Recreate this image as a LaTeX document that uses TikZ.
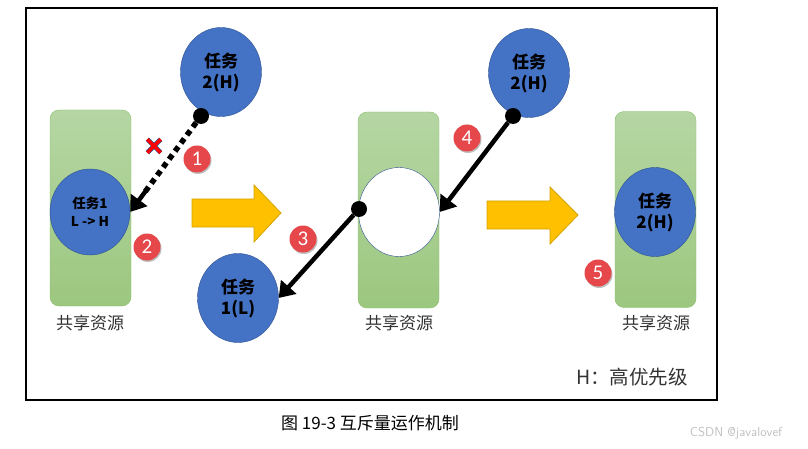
\documentclass[tikz,border=0pt]{standalone}
\usepackage{fontspec}
\setmainfont{Carlito}
\newfontfamily\cjk{Noto Sans CJK SC}
\usetikzlibrary{arrows.meta,shapes.geometric,calc}

\definecolor{taskblue}{HTML}{4472C4}
\definecolor{taskline}{HTML}{2F528F}
\definecolor{boxtop}{HTML}{B5D6A3}
\definecolor{boxbot}{HTML}{9CC77F}
\definecolor{boxline}{HTML}{8DC070}
\definecolor{badgered}{HTML}{E5474B}
\definecolor{arrowyellow}{HTML}{FFC000}
\definecolor{arrowline}{HTML}{D6A200}

\tikzset{
  res/.style={draw=boxline, top color=boxtop, bottom color=boxbot, rounded corners=9pt,
    minimum width=81pt, minimum height=196pt},
  task/.style={ellipse, draw=taskline, fill=taskblue, minimum width=81pt, minimum height=89pt,
    inner sep=0pt, align=center, font=\cjk\bfseries\fontsize{17}{21}\selectfont},
  badge/.style={circle, fill=badgered, text=white, minimum size=27pt, inner sep=0pt,
    font=\fontsize{21}{21}\selectfont},
  shade/.style={circle, fill=black!25, minimum size=27pt, inner sep=0pt},
  dot/.style={circle, fill=black, minimum size=16pt, inner sep=0pt},
  reslabel/.style={font=\cjk\fontsize{17}{20}\selectfont, text=black!80},
  move/.style={line width=4.5pt, -{Triangle[length=15pt, width=20pt]}},
  bigarrow/.style={draw=arrowline, fill=arrowyellow, line width=0.8pt}
}

\begin{document}
\begin{tikzpicture}[x=1pt, y=-1pt]
\useasboundingbox (0,0) rectangle (808,449);

\draw[line width=1.3pt] (26,8) rectangle (717,400);

% left: task 2 blocked
\node[res] (res1) at (90.5,208) {};
\node[task, minimum width=80pt, minimum height=86pt, font=\cjk\bfseries\fontsize{13.5}{18}\selectfont]
  (t1) at (90,212) {任务1\\L -> H};
\node[task] (t2a) at (221,72) {任务\\2(H)};
\node[dot] (d1) at (201,116) {};
\draw[line width=5.5pt, dash pattern=on 5.5pt off 4.5pt] (d1) -- ($(d1)!0.8!(t1.east)$);
\draw[move] ($(d1)!0.78!(t1.east)$) -- (t1.east);
\node[minimum size=13pt, inner sep=0pt] (x1) at (154,146) {};
\draw[taskline, line width=4.6pt] (x1.north west) -- (x1.south east) (x1.north east) -- (x1.south west);
\draw[red, line width=3.2pt] (x1.north west) -- (x1.south east) (x1.north east) -- (x1.south west);
\node[shade] at (198,160.5) {};
\node[badge] (b1) at (197,159) {1};
\node[shade] at (148,248.5) {};
\node[badge] (b2) at (147,247) {2};
\node[reslabel] (l1) at (90,323) {共享资源};

\draw[bigarrow] (192,199) -- (254,199) -- (254,185) -- (281,213) -- (254,242) -- (254,227) -- (192,227) -- cycle;

% middle: task 1 released
\node[res] (res2) at (398.5,210) {};
\node[ellipse, draw=taskline, fill=white, minimum width=81pt, minimum height=89pt] (free) at (399,212) {};
\node[task] (t1b) at (238,298) {任务\\1(L)};
\node[dot] (d2) at (359,209) {};
\draw[move] (d2) -- (t1b.east);
\node[shade] at (304,240.5) {};
\node[badge] (b3) at (303,239) {3};
\node[task] (t2b) at (529,73) {任务\\2(H)};
\node[dot] (d3) at (513,116) {};
\draw[move] (d3) -- (free.east);
\node[shade] at (468,139.5) {};
\node[badge] (b4) at (467,138) {4};
\node[reslabel] (l2) at (399,323) {共享资源};

\draw[bigarrow] (487,201) -- (550,201) -- (550,187) -- (578,215) -- (550,244) -- (550,229) -- (487,229) -- cycle;

% right: task 2 owns it
\node[res] (res3) at (655.5,209.5) {};
\node[task] (t2c) at (655,212) {任务\\2(H)};
\node[shade] at (599,274.5) {};
\node[badge] (b5) at (598,273) {5};
\node[reslabel] (l3) at (656,323) {共享资源};

\node[font=\cjk\fontsize{19.5}{22}\selectfont, text=black!80] (key) at (632,377) {H：高优先级};

\node[font=\cjk\fontsize{17}{20}\selectfont] (cap) at (370,423) {图 19-3 互斥量运作机制};
\node[font=\sffamily\fontsize{13}{13}\selectfont, text=black!25] (wm) at (736,433) {CSDN @javalovef};
\end{tikzpicture}
\end{document}
